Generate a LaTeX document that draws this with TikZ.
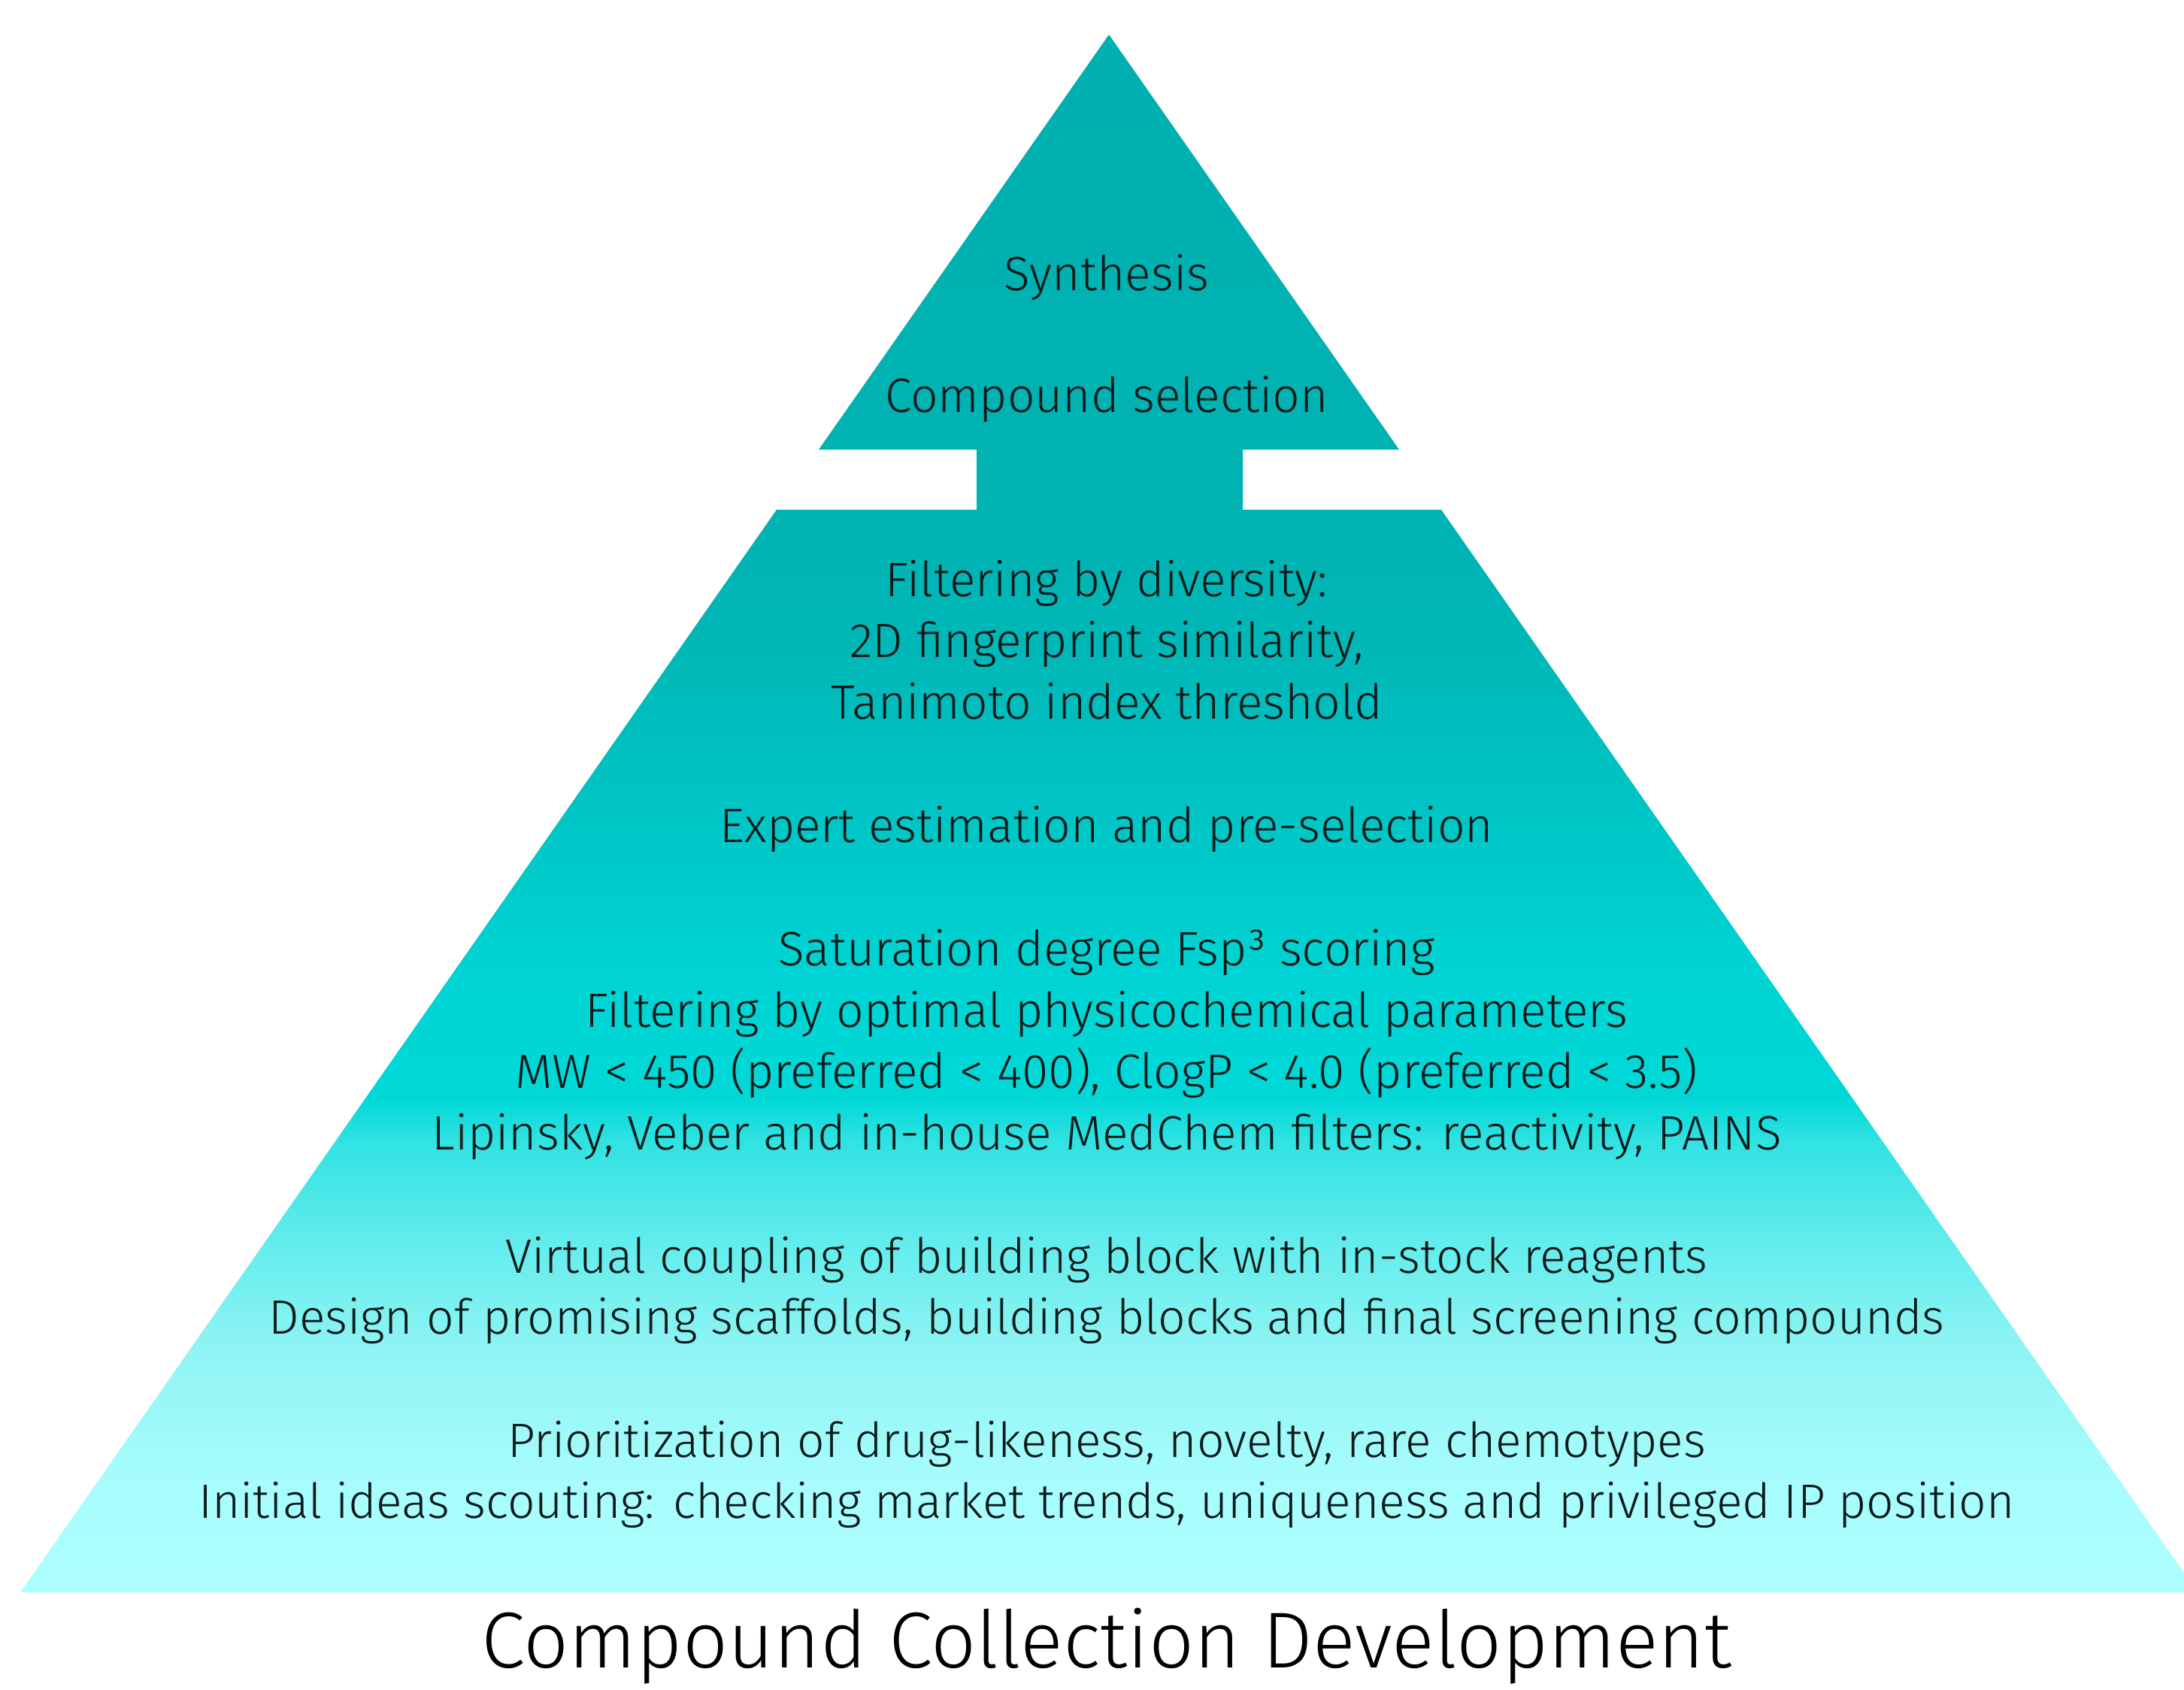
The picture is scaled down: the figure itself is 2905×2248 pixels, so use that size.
\documentclass[tikz,border=0pt]{standalone}
\usepackage{fontspec}
\setmainfont{Fira Sans}[UprightFont=* Light]
\definecolor{cB}{HTML}{AEFFFF}
\definecolor{c1}{HTML}{A6FCFC}
\definecolor{c2}{HTML}{90F4F4}
\definecolor{c3}{HTML}{62ECEC}
\definecolor{c4}{HTML}{30E2E2}
\definecolor{c5}{HTML}{00D8D8}
\definecolor{c6}{HTML}{00D4D4}
\definecolor{c7}{HTML}{00C6C6}
\definecolor{c8}{HTML}{00B8B8}
\definecolor{c9}{HTML}{00B3B3}
\definecolor{cT}{HTML}{00B0B0}
\definecolor{ink}{HTML}{0A1A1A}
\pgfdeclareverticalshading{pyr}{100bp}{color(0bp)=(cB); color(25bp)=(cB); color(28.8bp)=(c1); color(32.7bp)=(c2); color(36.3bp)=(c3); color(39.5bp)=(c4); color(40.9bp)=(c5); color(44.7bp)=(c6); color(49.6bp)=(c7); color(55.1bp)=(c8); color(58.8bp)=(c9); color(75bp)=(cT); color(100bp)=(cT)}
\tikzset{
  txt/.style={anchor=base, inner sep=0pt, text=ink, font=\fontsize{64.2}{72}\selectfont},
  ttl/.style={anchor=base, inner sep=0pt, text=black, font=\fontsize{105.5}{120}\selectfont}
}
\begin{document}
\begin{tikzpicture}[x=1pt,y=-1pt]
\useasboundingbox (0,0) rectangle (2905,2248);
\shade[shading=pyr] (1475,46) -- (1089,598) -- (1299,598) -- (1299,678) -- (1033,678) -- (27,2118) -- (2905,2118) -- (2905,2092) -- (1917,678) -- (1653,678) -- (1653,598) -- (1861,598) -- cycle;
\node[txt] (l1) at (1472,386) {Synthesis};
\node[txt] (l2) at (1472,548) {Compound selection};
\node[txt] (l3) at (1472,793) {Filtering by diversity:};
\node[txt] (l4) at (1472,874) {2D fingerprint similarity,};
\node[txt] (l5) at (1472,956) {Tanimoto index threshold};
\node[txt] (l6) at (1472,1120) {Expert estimation and pre-selection};
\node[txt] (l7) at (1472,1284) {Saturation degree Fsp³ scoring};
\node[txt] (l8) at (1472,1366) {Filtering by optimal physicochemical parameters};
\node[txt] (l9) at (1472,1447) {MW < 450 (preferred < 400), ClogP < 4.0 (preferred < 3.5)};
\node[txt] (l10) at (1472,1529) {Lipinsky, Veber and in-house MedChem filters: reactivity, PAINS};
\node[txt] (l11) at (1472,1693) {Virtual coupling of building block with in-stock reagents};
\node[txt] (l12) at (1472,1774) {Design of promising scaffolds, building blocks and final screening compounds};
\node[txt] (l13) at (1472,1938) {Prioritization of drug-likeness, novelty, rare chemotypes};
\node[txt] (l14) at (1472,2019) {Initial ideas scouting: checking market trends, uniqueness and privileged IP position};
\node[ttl] (title) at (1472,2218) {Compound Collection Development};
\end{tikzpicture}
\end{document}
